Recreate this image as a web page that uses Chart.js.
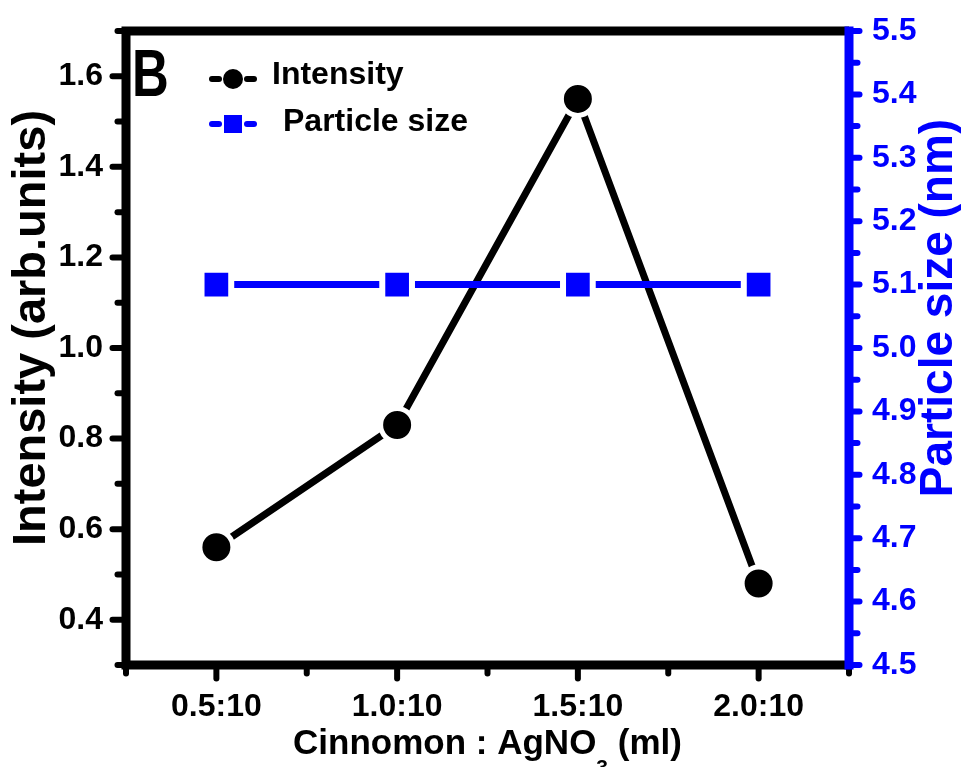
<!DOCTYPE html>
<html>
<head>
<meta charset="utf-8">
<script src="https://cdn.jsdelivr.net/npm/chart.js@4.4.0/dist/chart.umd.min.js"></script>
<style>
  html, body { margin: 0; padding: 0; background: #fff; }
  #wrap { width: 961px; height: 767px; }
</style>
</head>
<body>
<div id="wrap"><canvas id="chart"></canvas></div>
<script>
'use strict';

// cinnamon extract : AgNO3 volume ratio (x) against intensity and particle size
const ratios = [0.5, 1.0, 1.5, 2.0];
const ratioLabels = ['0.5:10', '1.0:10', '1.5:10', '2.0:10'];
const intensity = [0.56, 0.83, 1.55, 0.48];
const particleSize = [5.1, 5.1, 5.1, 5.1];
const intensityTicks = [0.4, 0.6, 0.8, 1.0, 1.2, 1.4, 1.6];
const sizeTicks = [4.5, 4.6, 4.7, 4.8, 4.9, 5.0, 5.1, 5.2, 5.3, 5.4, 5.5];

const BLUE = '#0000ff';
const FONT = '"Liberation Sans", Arial, sans-serif';
const tickFont = {family: FONT, size: 32, weight: 'bold', lineHeight: 1};

let canvasElem = document.getElementById('chart');

function seg(ctx, x1, y1, x2, y2) {
    ctx.beginPath();
    ctx.moveTo(x1, y1);
    ctx.lineTo(x2, y2);
    ctx.stroke();
}

// halfway points between ticks, plus the axis ends
function minorsOf(list, min, max) {
    const out = [min, max];
    for (let i = 1; i < list.length; i++) out.push((list[i - 1] + list[i]) / 2);
    return out;
}

const decorations = {
    id: 'decorations',
    afterDraw(chart) {
        const ctx = chart.ctx;
        const {left, right, top, bottom} = chart.chartArea;
        const xs = chart.scales.x, ys = chart.scales.y, ys1 = chart.scales.y1;
        const bw = 9;

        ctx.save();
        ctx.lineCap = 'round';

        // left ticks
        ctx.strokeStyle = '#000';
        ctx.lineWidth = 6;
        intensityTicks.forEach(v => {
            const y = ys.getPixelForValue(v);
            seg(ctx, left - bw / 2 - 9, y, left, y);
        });
        minorsOf(intensityTicks, ys.min, ys.max).forEach(v => {
            const y = ys.getPixelForValue(v);
            seg(ctx, left - bw / 2 - 4, y, left, y);
        });

        // bottom ticks
        ratios.forEach(v => {
            const x = xs.getPixelForValue(v);
            seg(ctx, x, bottom, x, bottom + bw / 2 + 9);
        });
        minorsOf(ratios, xs.min, xs.max).forEach(v => {
            const x = xs.getPixelForValue(v);
            seg(ctx, x, bottom, x, bottom + bw / 2 + 4);
        });

        // right ticks
        ctx.strokeStyle = BLUE;
        sizeTicks.forEach(v => {
            const y = ys1.getPixelForValue(v);
            seg(ctx, right, y, right + bw / 2 + 6, y);
        });
        minorsOf(sizeTicks, ys1.min, ys1.max).forEach(v => {
            const y = ys1.getPixelForValue(v);
            seg(ctx, right, y, right + bw / 2 + 4, y);
        });

        // frame
        ctx.lineCap = 'butt';
        ctx.lineJoin = 'miter';
        ctx.lineWidth = bw;
        ctx.strokeStyle = '#000';
        ctx.beginPath();
        ctx.moveTo(right, top);
        ctx.lineTo(left, top);
        ctx.lineTo(left, bottom);
        ctx.lineTo(right, bottom);
        ctx.stroke();
        ctx.strokeStyle = BLUE;
        seg(ctx, right, top - bw / 2, right, bottom + bw / 2);

        // panel letter
        ctx.fillStyle = '#000';
        ctx.textAlign = 'left';
        ctx.textBaseline = 'alphabetic';
        ctx.save();
        ctx.translate(left + 6, top + 65);
        ctx.scale(0.76, 1);
        ctx.font = 'bold 67px ' + FONT;
        ctx.fillText('B', 0, 0);
        ctx.restore();

        // legend
        const lx = 233;
        ctx.lineWidth = 6;
        ctx.lineCap = 'round';
        ctx.strokeStyle = '#000';
        seg(ctx, lx - 21, 79, lx - 14, 79);
        seg(ctx, lx + 14, 79, lx + 21, 79);
        ctx.beginPath();
        ctx.arc(lx, 79, 10, 0, Math.PI * 2);
        ctx.fill();
        ctx.strokeStyle = BLUE;
        ctx.fillStyle = BLUE;
        seg(ctx, lx - 21, 124, lx - 14, 124);
        seg(ctx, lx + 14, 124, lx + 21, 124);
        ctx.fillRect(lx - 9, 115, 18, 18);

        ctx.fillStyle = '#000';
        ctx.font = 'bold 32px ' + FONT;
        ctx.fillText(chart.data.datasets[0].label, 272, 84);
        ctx.fillText(chart.data.datasets[1].label, 283, 131);

        // x axis title with subscript
        const partA = 'Cinnomon : AgNO', partB = ' (ml)';
        ctx.font = 'bold 35px ' + FONT;
        const wA = ctx.measureText(partA).width;
        const wB = ctx.measureText(partB).width;
        ctx.font = 'bold 21px ' + FONT;
        const wS = ctx.measureText('3').width;
        const tx = (left + right) / 2 - (wA + wS + wB) / 2;
        const ty = 754;
        ctx.font = 'bold 35px ' + FONT;
        ctx.fillText(partA, tx, ty);
        ctx.font = 'bold 21px ' + FONT;
        ctx.fillText('3', tx + wA, ty + 20);
        ctx.font = 'bold 35px ' + FONT;
        ctx.fillText(partB, tx + wA + wS, ty);

        // rotated y titles
        ctx.textAlign = 'center';
        ctx.font = 'bold 47px ' + FONT;
        ctx.save();
        ctx.translate(45, 328);
        ctx.rotate(-Math.PI / 2);
        ctx.fillText('Intensity (arb.units)', 0, 0);
        ctx.restore();

        ctx.fillStyle = BLUE;
        ctx.font = 'bold 46px ' + FONT;
        ctx.save();
        ctx.translate(952, 308);
        ctx.rotate(-Math.PI / 2);
        ctx.fillText('Particle size (nm)', 0, 0);
        ctx.restore();

        ctx.restore();
    }
};

function renderChart() {
    const ctx = canvasElem.getContext('2d');

    new Chart(ctx, {
        type: 'line',
        data: {
            datasets: [{
                label: 'Intensity',
                data: ratios.map((r, i) => ({x: r, y: intensity[i]})),
                yAxisID: 'y',
                order: 2,
                borderColor: '#000',
                borderWidth: 7,
                pointStyle: 'circle',
                pointRadius: 16.5,
                pointBackgroundColor: '#000',
                pointBorderColor: '#fff',
                pointBorderWidth: 5,
                tension: 0
            },
            {
                label: 'Particle size',
                data: ratios.map((r, i) => ({x: r, y: particleSize[i]})),
                yAxisID: 'y1',
                order: 1,
                borderColor: BLUE,
                borderWidth: 7,
                pointStyle: 'rect',
                pointRadius: 21,
                pointBackgroundColor: BLUE,
                pointBorderColor: '#fff',
                pointBorderWidth: 6,
                tension: 0
            }]
        },
        options: {
            responsive: true,
            maintainAspectRatio: false,
            animation: false,
            layout: {
                padding: {top: 16, left: 0, right: 0, bottom: 0}
            },
            scales: {
                x: {
                    type: 'linear',
                    position: 'bottom',
                    min: 0.25,
                    max: 2.25,
                    afterBuildTicks: s => { s.ticks = ratios.map(v => ({value: v})); },
                    afterFit: s => { s.height = 102; },
                    grid: {display: false},
                    border: {display: false},
                    ticks: {
                        color: '#000',
                        padding: 18,
                        maxRotation: 0,
                        font: tickFont,
                        callback: v => ratioLabels[ratios.indexOf(v)]
                    }
                },
                y: {
                    position: 'left',
                    min: 0.3,
                    max: 1.7,
                    afterBuildTicks: s => { s.ticks = intensityTicks.map(v => ({value: v})); },
                    afterFit: s => { s.width = 126; },
                    grid: {display: false},
                    border: {display: false},
                    ticks: {
                        color: '#000',
                        padding: 15,
                        font: tickFont,
                        callback: v => v.toFixed(1)
                    }
                },
                y1: {
                    position: 'right',
                    min: 4.5,
                    max: 5.5,
                    afterBuildTicks: s => { s.ticks = sizeTicks.map(v => ({value: v})); },
                    afterFit: s => { s.width = 112; },
                    grid: {display: false},
                    border: {display: false},
                    ticks: {
                        color: BLUE,
                        padding: 15,
                        font: tickFont,
                        callback: v => v.toFixed(1)
                    }
                }
            },
            plugins: {
                legend: {display: false},
                tooltip: {enabled: false}
            }
        },
        plugins: [decorations]
    });
}

renderChart();
</script>
</body>
</html>
